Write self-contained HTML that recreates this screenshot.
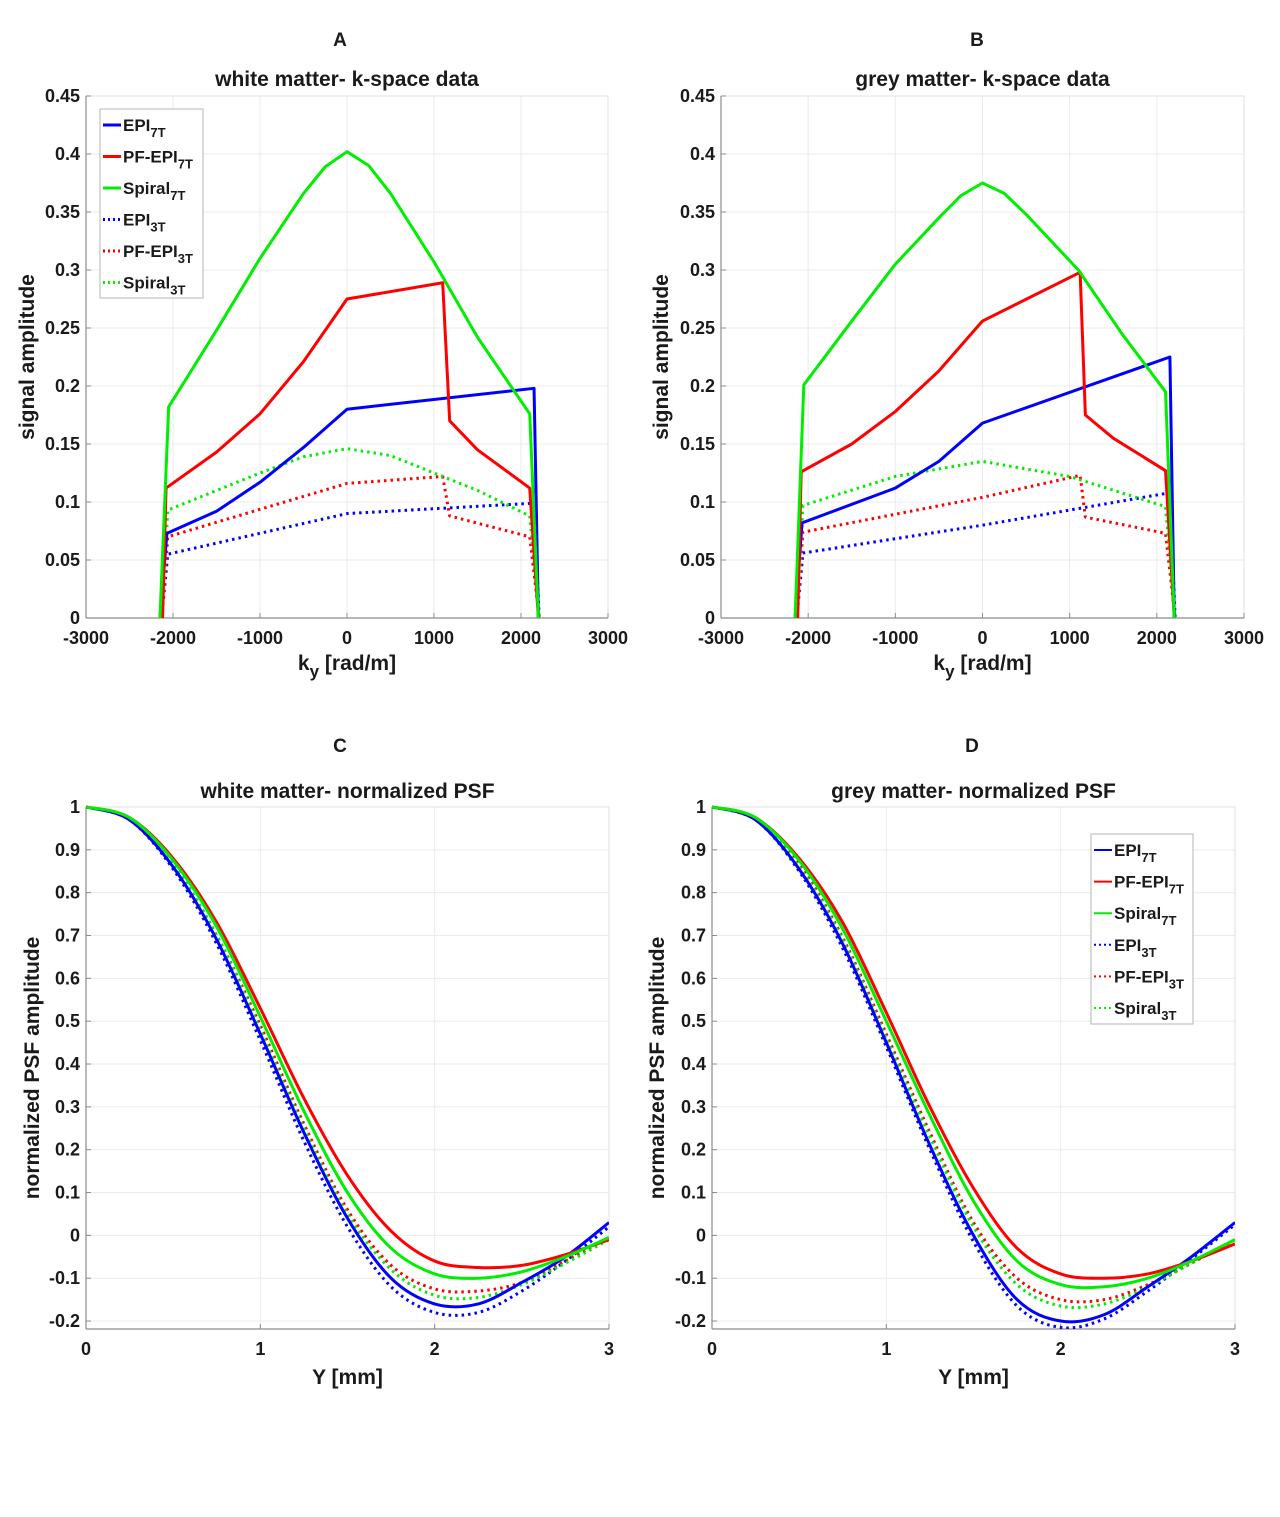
<!DOCTYPE html>
<html><head><meta charset="utf-8">
<style>
html,body{margin:0;padding:0;background:#fff;}
svg text{font-family:"Liberation Sans",Arial,sans-serif;font-weight:bold;fill:#1a1a1a;}
</style></head>
<body>
<svg id="fig" width="1280" height="1512" viewBox="0 0 1280 1512" xmlns="http://www.w3.org/2000/svg"></svg>
<script>
// ---------- Data ----------
const seriesNames = ["EPI7T","PF-EPI7T","Spiral7T","EPI3T","PF-EPI3T","Spiral3T"];
const seriesColors = ["#0000ff","#ff0000","#00ee00","#0000ff","#ff0000","#00ee00"];
const seriesDotted = [false,false,false,true,true,true];

// Panel A: white matter k-space (ky, amplitude) pairs
const A_EPI7T_k = [-2150,-2070,-1500,-1000,-500,0,2150,2200];
const A_EPI7T_v = [0,0.073,0.092,0.117,0.147,0.180,0.198,0];
const A_PF7T_k = [-2120,-2080,-1500,-1000,-500,0,1100,1180,1500,2100,2200];
const A_PF7T_v = [0,0.112,0.143,0.176,0.221,0.275,0.289,0.170,0.145,0.112,0];
const A_SP7T_k = [-2150,-2050,-1500,-1000,-500,-250,0,250,500,1000,1500,2100,2200];
const A_SP7T_v = [0,0.182,0.248,0.310,0.366,0.389,0.402,0.390,0.366,0.307,0.242,0.176,0];
const A_EPI3T_k = [-2130,-2060,0,2150,2210];
const A_EPI3T_v = [0,0.055,0.090,0.099,0];
const A_PF3T_k = [-2130,-2060,0,1100,1180,2100,2210];
const A_PF3T_v = [0,0.070,0.116,0.122,0.088,0.070,0];
const A_SP3T_k = [-2130,-2060,-1000,-500,0,500,1000,1500,2100,2210];
const A_SP3T_v = [0,0.093,0.125,0.139,0.146,0.140,0.125,0.110,0.088,0];

// Panel B: grey matter k-space
const B_EPI7T_k = [-2150,-2070,-1000,-500,0,2150,2200];
const B_EPI7T_v = [0,0.082,0.112,0.135,0.168,0.225,0];
const B_PF7T_k = [-2120,-2080,-1500,-1000,-500,0,1120,1180,1500,2100,2200];
const B_PF7T_v = [0,0.126,0.150,0.178,0.213,0.256,0.298,0.175,0.155,0.127,0];
const B_SP7T_k = [-2150,-2050,-1500,-1000,-500,-250,0,250,500,1100,1600,2100,2200];
const B_SP7T_v = [0,0.201,0.256,0.305,0.345,0.364,0.375,0.366,0.348,0.300,0.245,0.195,0];
const B_EPI3T_k = [-2130,-2060,0,2150,2210];
const B_EPI3T_v = [0,0.056,0.080,0.108,0];
const B_PF3T_k = [-2130,-2060,0,1120,1180,2100,2210];
const B_PF3T_v = [0,0.074,0.104,0.123,0.087,0.073,0];
const B_SP3T_k = [-2130,-2060,-1000,0,1000,2100,2210];
const B_SP3T_v = [0,0.097,0.122,0.135,0.122,0.096,0];

// PSF panels: sample positions (mm)
const psfY = [0,0.25,0.5,0.75,1,1.25,1.5,1.75,2,2.25,2.5,2.75,3];
// Panel C: white matter PSF
const C_EPI7T = [1,0.97,0.86,0.69,0.47,0.24,0.04,-0.10,-0.16,-0.16,-0.11,-0.05,0.03];
const C_PF7T  = [1,0.975,0.88,0.73,0.53,0.32,0.14,0.01,-0.06,-0.075,-0.07,-0.045,-0.01];
const C_SP7T  = [1,0.975,0.875,0.72,0.51,0.29,0.10,-0.03,-0.09,-0.10,-0.085,-0.05,-0.005];
const C_EPI3T = [1,0.97,0.855,0.68,0.455,0.22,0.02,-0.12,-0.18,-0.18,-0.13,-0.06,0.02];
const C_PF3T  = [1,0.97,0.865,0.70,0.49,0.26,0.06,-0.07,-0.125,-0.13,-0.11,-0.06,-0.005];
const C_SP3T  = [1,0.97,0.865,0.70,0.48,0.25,0.05,-0.08,-0.14,-0.145,-0.115,-0.065,-0.01];
// Panel D: grey matter PSF
const D_EPI7T = [1,0.97,0.855,0.68,0.45,0.21,0.0,-0.15,-0.20,-0.185,-0.12,-0.05,0.03];
const D_PF7T  = [1,0.975,0.88,0.73,0.52,0.30,0.11,-0.03,-0.09,-0.10,-0.09,-0.06,-0.02];
const D_SP7T  = [1,0.975,0.875,0.715,0.50,0.28,0.08,-0.06,-0.115,-0.12,-0.10,-0.06,-0.01];
const D_EPI3T = [1,0.97,0.85,0.67,0.44,0.20,-0.015,-0.165,-0.215,-0.195,-0.13,-0.055,0.025];
const D_PF3T  = [1,0.97,0.865,0.695,0.47,0.24,0.03,-0.10,-0.15,-0.15,-0.115,-0.065,-0.01];
const D_SP3T  = [1,0.97,0.86,0.69,0.46,0.23,0.02,-0.115,-0.165,-0.16,-0.12,-0.065,-0.01];

const kTicks = [-3000,-2000,-1000,0,1000,2000,3000];
const kTickLabels = ["-3000","-2000","-1000","0","1000","2000","3000"];
const ampTicks = [0,0.05,0.1,0.15,0.2,0.25,0.3,0.35,0.4,0.45];
const ampTickLabels = ["0","0.05","0.1","0.15","0.2","0.25","0.3","0.35","0.4","0.45"];
const psfXTicks = [0,1,2,3];
const psfXTickLabels = ["0","1","2","3"];
const psfYTicks = [-0.2,-0.1,0,0.1,0.2,0.3,0.4,0.5,0.6,0.7,0.8,0.9,1];
const psfYTickLabels = ["-0.2","-0.1","0","0.1","0.2","0.3","0.4","0.5","0.6","0.7","0.8","0.9","1"];

// ---------- Drawing ----------
const NS = "http://www.w3.org/2000/svg";
const svg = document.getElementById('fig');
function mk(tag, attrs, parent){
  const e = document.createElementNS(NS, tag);
  for (const k in attrs) e.setAttribute(k, attrs[k]);
  (parent||svg).appendChild(e);
  return e;
}
function scale(d0,d1,r0,r1){ return v => r0 + (v-d0)/(d1-d0)*(r1-r0); }

function catmull(pts){
  let d = "M"+pts[0][0].toFixed(2)+","+pts[0][1].toFixed(2);
  for (let i=0;i<pts.length-1;i++){
    const p0=pts[Math.max(0,i-1)], p1=pts[i], p2=pts[i+1], p3=pts[Math.min(pts.length-1,i+2)];
    const c1=[p1[0]+(p2[0]-p0[0])/6, p1[1]+(p2[1]-p0[1])/6];
    const c2=[p2[0]-(p3[0]-p1[0])/6, p2[1]-(p3[1]-p1[1])/6];
    d += " C"+c1[0].toFixed(2)+","+c1[1].toFixed(2)+" "+c2[0].toFixed(2)+","+c2[1].toFixed(2)+" "+p2[0].toFixed(2)+","+p2[1].toFixed(2);
  }
  return d;
}

function panel(cfg){
  const g = mk('g', {});
  
  
  const sx = scale(cfg.xd[0],cfg.xd[1],cfg.L,cfg.R);
  const sy = scale(cfg.yd[0],cfg.yd[1],cfg.B,cfg.T);
  cfg.xt.forEach((t,i)=>{
    const x=sx(t);
    const gl=mk('line',{x1:x,x2:x,y1:cfg.T,y2:cfg.B,stroke:'#ebebeb','stroke-width':1},g);
     
    const tl=mk('text',{x:x,y:cfg.B+26,'font-size':18,'text-anchor':'middle'},g);
    tl.textContent=cfg.xtl[i];
     
  });
  cfg.yt.forEach((t,i)=>{
    const y=sy(t);
    const gl=mk('line',{x1:cfg.L,x2:cfg.R,y1:y,y2:y,stroke:'#ebebeb','stroke-width':1},g);
     
    const tl=mk('text',{x:cfg.L-6,y:y+6,'font-size':18,'text-anchor':'end'},g);
    tl.textContent=cfg.ytl[i];
     
  });
  const box=mk('rect',{x:cfg.L,y:cfg.T,width:cfg.R-cfg.L,height:cfg.B-cfg.T,fill:'none',stroke:'#e0e0e0','stroke-width':1},g);
   
  const ax1=mk('line',{x1:cfg.L,x2:cfg.L,y1:cfg.T,y2:cfg.B,stroke:'#8c8c8c','stroke-width':1.2},g);
   
  const ax2=mk('line',{x1:cfg.L,x2:cfg.R,y1:cfg.B,y2:cfg.B,stroke:'#8c8c8c','stroke-width':1.2},g);
   
  cfg.xt.forEach(t=>{ mk('line',{x1:sx(t),x2:sx(t),y1:cfg.B,y2:cfg.B-5,stroke:'#8c8c8c'},g); });
  cfg.yt.forEach(t=>{ mk('line',{x1:cfg.L,x2:cfg.L+5,y1:sy(t),y2:sy(t),stroke:'#8c8c8c'},g); });
  const clipId='clip-'+cfg.name;
  const cp=mk('clipPath',{id:clipId},g);
  mk('rect',{x:cfg.L,y:cfg.T-2,width:cfg.R-cfg.L,height:cfg.B-cfg.T+2},cp);
  const order=[3,4,5,0,1,2];
  order.forEach(i=>{
    const s=cfg.series[i];
    const pts=s.x.map((xv,j)=>[sx(xv),sy(s.y[j])]);
    let d;
    if (cfg.smooth) d=catmull(pts);
    else d="M"+pts.map(p=>p[0].toFixed(2)+","+p[1].toFixed(2)).join(" L");
    const p=mk('path',{d:d,fill:'none',stroke:seriesColors[i],'stroke-width':3,'stroke-linejoin':'round','clip-path':'url(#'+clipId+')'},g);
    if (seriesDotted[i]) p.setAttribute('stroke-dasharray','2.5 4');
    
    
  });
  const lt=mk('text',{x:cfg.letterX,y:cfg.letterY,'font-size':19,'text-anchor':'middle'},g);
  lt.textContent=cfg.letter;
   
  const tt=mk('text',{x:(cfg.L+cfg.R)/2,y:cfg.titleY,'font-size':21,'text-anchor':'middle'},g);
  tt.textContent=cfg.title;
   
  const yl=mk('text',{x:0,y:0,'font-size':21,'text-anchor':'middle',transform:'translate('+cfg.ylabX+','+((cfg.T+cfg.B)/2)+') rotate(-90)'},g);
  yl.textContent=cfg.ylab;
   
  const xl=mk('text',{x:(cfg.L+cfg.R)/2,y:cfg.xlabY,'font-size':21,'text-anchor':'middle'},g);
   
  if (cfg.xlabSub){
    xl.appendChild(document.createTextNode('k'));
    const ts=document.createElementNS(NS,'tspan'); ts.setAttribute('dy','7'); ts.setAttribute('font-size','17'); ts.textContent='y'; xl.appendChild(ts);
    const ts2=document.createElementNS(NS,'tspan'); ts2.setAttribute('dy','-7'); ts2.textContent=' [rad/m]'; xl.appendChild(ts2);
  } else xl.textContent=cfg.xlab;
  if (cfg.legend){
    const lg=cfg.legend;
    const lgg=mk('g',{},g);
     
    mk('rect',{x:lg.x,y:lg.y,width:lg.w,height:lg.h,fill:'#fff',stroke:'#b4b4b4','stroke-width':1},lgg);
    seriesNames.forEach((nm,i)=>{
      const y=lg.y+16+i*lg.step;
      const ll=mk('line',{x1:lg.x+3,x2:lg.x+21,y1:y,y2:y,stroke:seriesColors[i],'stroke-width':lg.lw},lgg);
      if (seriesDotted[i]) ll.setAttribute('stroke-dasharray','2 3');
      const t=mk('text',{x:lg.x+23,y:y+6,'font-size':17},lgg);
       
      t.appendChild(document.createTextNode(nm.slice(0,-2)));
      const sub=document.createElementNS(NS,'tspan'); sub.setAttribute('dy','6'); sub.setAttribute('font-size','13'); sub.textContent=nm.slice(-2);
      t.appendChild(sub);
    });
  }
}

function ks(k,v){return {x:k,y:v};}
panel({name:'panel-a',L:86,R:608,T:96,B:618,xd:[-3000,3000],yd:[0,0.45],xt:kTicks,xtl:kTickLabels,yt:ampTicks,ytl:ampTickLabels,
  series:[ks(A_EPI7T_k,A_EPI7T_v),ks(A_PF7T_k,A_PF7T_v),ks(A_SP7T_k,A_SP7T_v),ks(A_EPI3T_k,A_EPI3T_v),ks(A_PF3T_k,A_PF3T_v),ks(A_SP3T_k,A_SP3T_v)],
  letter:'A',letterX:340,letterY:46,title:'white matter- k-space data',titleY:86,ylab:'signal amplitude',ylabX:34,xlabSub:true,xlabY:670,
  legend:{x:100,y:109,w:103,h:189,step:31.5,lw:3}});
panel({name:'panel-b',L:721,R:1244,T:96,B:618,xd:[-3000,3000],yd:[0,0.45],xt:kTicks,xtl:kTickLabels,yt:ampTicks,ytl:ampTickLabels,
  series:[ks(B_EPI7T_k,B_EPI7T_v),ks(B_PF7T_k,B_PF7T_v),ks(B_SP7T_k,B_SP7T_v),ks(B_EPI3T_k,B_EPI3T_v),ks(B_PF3T_k,B_PF3T_v),ks(B_SP3T_k,B_SP3T_v)],
  letter:'B',letterX:977,letterY:46,title:'grey matter- k-space data',titleY:86,ylab:'signal amplitude',ylabX:668,xlabSub:true,xlabY:670});
panel({name:'panel-c',L:86,R:609,T:807,B:1329,xd:[0,3],yd:[-0.2186,1],xt:psfXTicks,xtl:psfXTickLabels,yt:psfYTicks,ytl:psfYTickLabels,smooth:true,
  series:[ks(psfY,C_EPI7T),ks(psfY,C_PF7T),ks(psfY,C_SP7T),ks(psfY,C_EPI3T),ks(psfY,C_PF3T),ks(psfY,C_SP3T)],
  letter:'C',letterX:340,letterY:752,title:'white matter- normalized PSF',titleY:798,ylab:'normalized PSF amplitude',ylabX:39,xlab:'Y [mm]',xlabY:1384});
panel({name:'panel-d',L:712,R:1235,T:807,B:1329,xd:[0,3],yd:[-0.2186,1],xt:psfXTicks,xtl:psfXTickLabels,yt:psfYTicks,ytl:psfYTickLabels,smooth:true,
  series:[ks(psfY,D_EPI7T),ks(psfY,D_PF7T),ks(psfY,D_SP7T),ks(psfY,D_EPI3T),ks(psfY,D_PF3T),ks(psfY,D_SP3T)],
  letter:'D',letterX:972,letterY:752,title:'grey matter- normalized PSF',titleY:798,ylab:'normalized PSF amplitude',ylabX:664,xlab:'Y [mm]',xlabY:1384,
  legend:{x:1091,y:834,w:102,h:190,step:31.6,lw:2}});
</script>
</body></html>
